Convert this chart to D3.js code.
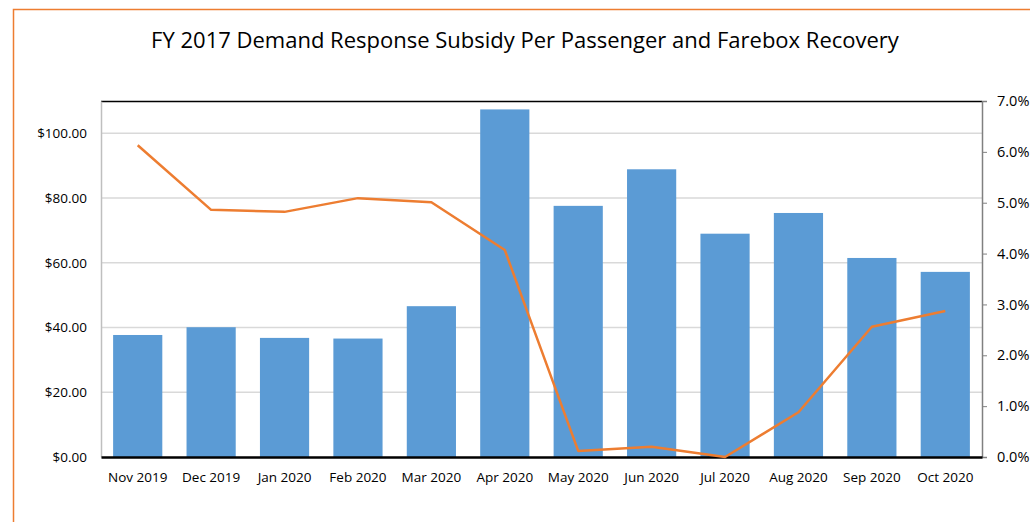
<!DOCTYPE html>
<html>
<head>
<meta charset="utf-8">
<script src="https://cdn.jsdelivr.net/npm/d3@7"></script>
<style>
  body { margin: 0; background: #fff; }
  svg { display: block; font-family: "Open Sans", "Noto Sans", sans-serif; }
</style>
</head>
<body>
<div id="chart"></div>
<script>
// months on the x axis
var months = ["Nov 2019", "Dec 2019", "Jan 2020", "Feb 2020", "Mar 2020", "Apr 2020",
  "May 2020", "Jun 2020", "Jul 2020", "Aug 2020", "Sep 2020", "Oct 2020"];
// subsidy per passenger ($) - bars, left axis
var subsidy = [37.7, 40.1, 36.8, 36.6, 46.6, 107.4, 77.6, 88.9, 69.0, 75.4, 61.5, 57.2];
// farebox recovery (%) - line, right axis
var farebox = [6.13, 4.86, 4.82, 5.09, 5.01, 4.07, 0.12, 0.20, 0.00, 0.88, 2.56, 2.87];
var leftTicks = [0, 20, 40, 60, 80, 100];
var rightTicks = [0, 1, 2, 3, 4, 5, 6, 7];
var title = "FY 2017 Demand Response Subsidy Per Passenger and Farebox Recovery";

var svgWidth = 1030, svgHeight = 522;
var margin = { top: 101, right: 48, bottom: 65, left: 101 };
var width = svgWidth - margin.left - margin.right;
var height = svgHeight - margin.top - margin.bottom;
var font = '"Open Sans", "Noto Sans", sans-serif';

var svg = d3.select("#chart").append("svg")
  .attr("width", svgWidth)
  .attr("height", svgHeight);

// orange outer frame
svg.append("rect")
  .attr("x", 13.5).attr("y", 9.5)
  .attr("width", 1100).attr("height", 600)
  .attr("fill", "none")
  .attr("stroke", "#ED7D31")
  .attr("stroke-width", 1.5);

svg.append("text")
  .attr("x", 525).attr("y", 48)
  .attr("text-anchor", "middle")
  .attr("font-size", 22)
  .attr("fill", "#000")
  .text(title);

var g = svg.append("g")
  .attr("transform", "translate(" + margin.left + "," + margin.top + ")");

var x = d3.scaleBand().domain(months).range([0, width]).paddingInner(0.33).paddingOuter(0.165);
var y = d3.scaleLinear().domain([0, 110]).range([height, 0]);
var y2 = d3.scaleLinear().domain([0, 7]).range([height, 0]);

// gridlines
g.selectAll(".grid").data(leftTicks.slice(1)).enter().append("line")
  .attr("x1", 0).attr("x2", width)
  .attr("y1", function (d) { return y(d); })
  .attr("y2", function (d) { return y(d); })
  .attr("stroke", "#d9d9d9")
  .attr("stroke-width", 1.5);

// bars
g.selectAll(".bar").data(subsidy).enter().append("rect")
  .attr("x", function (d, i) { return x(months[i]); })
  .attr("y", function (d) { return y(d); })
  .attr("width", x.bandwidth())
  .attr("height", function (d) { return height - y(d); })
  .attr("fill", "#5B9BD5");

// top border of plot
g.append("line")
  .attr("x1", 0).attr("x2", width).attr("y1", 0.5).attr("y2", 0.5)
  .attr("stroke", "#000").attr("stroke-width", 1.5);

// left axis
var leftAxis = g.append("g")
  .call(d3.axisLeft(y).tickValues(leftTicks).tickSize(0).tickPadding(14)
    .tickFormat(function (d) { return "$" + d3.format(".2f")(d); }));
leftAxis.attr("font-family", font);
leftAxis.select(".domain").attr("stroke", "#bfbfbf").attr("stroke-width", 1.5);
leftAxis.selectAll("text").attr("font-size", 13.5).attr("fill", "#000");

// right axis
var rightAxis = g.append("g")
  .attr("transform", "translate(" + width + ",0)")
  .call(d3.axisRight(y2).tickValues(rightTicks).tickSize(5).tickSizeOuter(5).tickPadding(10)
    .tickFormat(function (d) { return d3.format(".1f")(d) + "%"; }));
rightAxis.attr("font-family", font);
rightAxis.select(".domain").attr("stroke", "#808080").attr("stroke-width", 1.5);
rightAxis.selectAll(".tick line").attr("stroke", "#808080");
rightAxis.selectAll("text").attr("font-size", 14.5).attr("fill", "#000");

// bottom axis
var bottomAxis = g.append("g")
  .attr("transform", "translate(0," + height + ")")
  .call(d3.axisBottom(x).tickSize(0).tickPadding(15));
bottomAxis.attr("font-family", font);
bottomAxis.select(".domain").attr("stroke", "#000").attr("stroke-width", 2.5);
bottomAxis.selectAll("text").attr("font-size", 13.5).attr("fill", "#000");

// farebox line
var line = d3.line()
  .x(function (d, i) { return x(months[i]) + x.bandwidth() / 2; })
  .y(function (d) { return y2(d); });

g.append("path")
  .datum(farebox)
  .attr("fill", "none")
  .attr("stroke", "#ED7D31")
  .attr("stroke-width", 2.5)
  .attr("stroke-linejoin", "round")
  .attr("d", line);
</script>
</body>
</html>
